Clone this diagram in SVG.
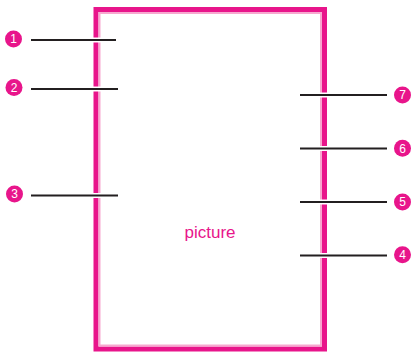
<svg xmlns="http://www.w3.org/2000/svg" width="411" height="352" viewBox="0 0 411 352">
<style>
.frame{fill:none;stroke:#E8158B;stroke-width:5}
.inner{fill:none;stroke:#F7A8CF;stroke-width:2}
.halo{stroke:#ffffff;stroke-width:5}
.lead{stroke:#231F20;stroke-width:2.2}
.badge{fill:#E8158B}
.num{fill:#ffffff;font-family:"Liberation Sans",Arial,sans-serif;font-size:12px;text-anchor:middle}
.label{fill:#E8158B;font-family:"Liberation Sans",Arial,sans-serif;font-size:17px;text-anchor:middle}
</style>
<g id="picture">
<rect class="frame" x="96" y="9.5" width="228.5" height="339.5"/>
<rect class="inner" x="99.5" y="13" width="221.5" height="332.5"/>
<text class="label" x="210" y="238">picture</text>
</g>
<g id="connectors">
<line class="halo" x1="91" y1="40" x2="104" y2="40"/>
<line class="halo" x1="91" y1="89" x2="104" y2="89"/>
<line class="halo" x1="91" y1="195.5" x2="104" y2="195.5"/>
<line class="halo" x1="317" y1="95" x2="330" y2="95"/>
<line class="halo" x1="317" y1="148.5" x2="330" y2="148.5"/>
<line class="halo" x1="317" y1="202" x2="330" y2="202"/>
<line class="halo" x1="317" y1="255.5" x2="330" y2="255.5"/>
<line class="lead" x1="31" y1="40" x2="116" y2="40"/>
<line class="lead" x1="31" y1="89" x2="118" y2="89"/>
<line class="lead" x1="31" y1="195.5" x2="118" y2="195.5"/>
<line class="lead" x1="300" y1="95" x2="387" y2="95"/>
<line class="lead" x1="300" y1="148.5" x2="387" y2="148.5"/>
<line class="lead" x1="300" y1="202" x2="387" y2="202"/>
<line class="lead" x1="300" y1="255.5" x2="387" y2="255.5"/>
</g>
<g id="callout-1"><circle class="badge" cx="13.5" cy="39" r="8.5"/><text class="num" x="13.5" y="43.3">1</text></g>
<g id="callout-2"><circle class="badge" cx="14" cy="87.5" r="8.5"/><text class="num" x="14" y="91.8">2</text></g>
<g id="callout-3"><circle class="badge" cx="14.5" cy="194" r="8.5"/><text class="num" x="14.5" y="198.3">3</text></g>
<g id="callout-7"><circle class="badge" cx="402.5" cy="95" r="8.5"/><text class="num" x="402.5" y="99.3">7</text></g>
<g id="callout-6"><circle class="badge" cx="402.5" cy="148.3" r="8.5"/><text class="num" x="402.5" y="152.6">6</text></g>
<g id="callout-5"><circle class="badge" cx="402.5" cy="202" r="8.5"/><text class="num" x="402.5" y="206.3">5</text></g>
<g id="callout-4"><circle class="badge" cx="402.5" cy="254.7" r="8.5"/><text class="num" x="402.5" y="259">4</text></g>
</svg>
